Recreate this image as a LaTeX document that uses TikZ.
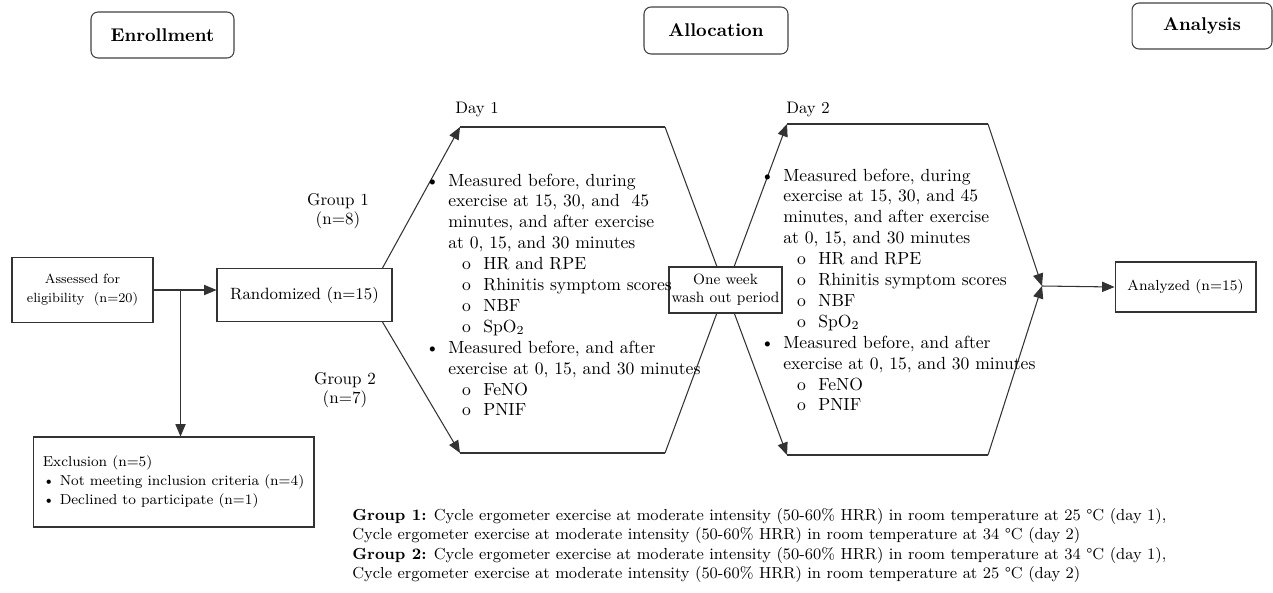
\documentclass[tikz,border=0pt]{standalone}
\usepackage{tikz}
\usetikzlibrary{positioning,arrows,calc}
\tikzset{
	header/.style={draw=black!75, rounded corners=4pt, line width=0.6pt, font=\fontsize{10.5}{12}\selectfont\bfseries, inner sep=0pt},
	flowbox/.style={draw=black!80, line width=0.6pt, align=center, inner sep=0pt},
	flowline/.style={draw=black!80, line width=0.6pt},
	flowarrow/.style={flowline, -triangle 45},
	daylist/.style={anchor=base west, text width=5.3cm, align=left, inner sep=0pt, font=\fontsize{10}{11.9}\selectfont}
}
\newcommand{\mainbullet}{\makebox[0pt][r]{\textbullet\hspace{0.18cm}}}
\newcommand{\subbullet}{\hspace*{0.7cm}\makebox[0pt][r]{o\hspace{0.25cm}}}

\begin{document}
\begin{tikzpicture}[x=0.02cm, y=-0.02cm]
	\useasboundingbox (0,0) rectangle (1273,592);
	% stage headers
	\node[header, minimum width=2.86cm, minimum height=0.92cm] (enroll) at (162.5,35) {Enrollment};
	\node[header, minimum width=2.88cm, minimum height=0.94cm] (alloc) at (716,30.5) {Allocation};
	\node[header, minimum width=2.80cm, minimum height=0.92cm] (analysis) at (1202,26) {Analysis};

	% enrollment
	\node[flowbox, minimum width=2.82cm, minimum height=1.30cm, font=\fontsize{7.6}{11}\selectfont] (assess) at (82.5,290) {Assessed for\\eligibility\ \ (n=20)};
	\node[flowbox, minimum width=3.5cm, minimum height=1.06cm, font=\fontsize{9.3}{11}\selectfont] (random) at (304.5,295) {Randomized (n=15)};
	\node[flowbox, align=left, minimum width=5.62cm, minimum height=1.80cm, font=\fontsize{8.2}{11}\selectfont] (exclude) at (173.5,482) {Exclusion (n=5)\\ \textbullet{} Not meeting inclusion criteria (n=4)\\ \textbullet{} Declined to participate (n=1)};
	\coordinate (branch) at ($(assess.east)+(27,0)$);
	\draw[flowarrow] (assess.east) -- (assess.east -| random.west);
	\draw[flowarrow] (branch) -- (branch |- exclude.north);

	% allocation, two days
	\coordinate (d1tl) at (460,127);
	\coordinate (d1tr) at (665,127);
	\coordinate (d1bl) at (460,453);
	\coordinate (d1br) at (665,453);
	\coordinate (d2tl) at (787,124);
	\coordinate (d2tr) at (988,124);
	\coordinate (d2bl) at (787,455);
	\coordinate (d2br) at (988,455);
	\coordinate (join) at (1042,286);

	\draw[flowarrow] ($(random.north east)+(-10,0)$) -- (d1tl);
	\draw[flowarrow] ($(random.south east)+(-10,0)$) -- (d1bl);
	\draw[flowline] (d1tl) -- (d1tr);
	\draw[flowline] (d1bl) -- (d1br);
	\draw[flowarrow] (d1tr) -- (d2bl);
	\draw[flowarrow] (d1br) -- (d2tl);
	\draw[flowline] (d2tl) -- (d2tr);
	\draw[flowline] (d2bl) -- (d2br);
	\draw[flowarrow] (d2tr) -- (join);
	\draw[flowarrow] (d2br) -- (join);

	\node[flowbox, fill=white, minimum width=2.26cm, minimum height=0.92cm, font=\fontsize{8.5}{10.2}\selectfont] (washout) at (725.5,290) {One week\\wash out period};

	\node[font=\fontsize{9.5}{11}\selectfont] (day1) at (477,110) {Day 1};
	\node[font=\fontsize{9.5}{11}\selectfont] (day2) at (808,110) {Day 2};
	\node[align=center, font=\fontsize{9.7}{10.8}\selectfont] (group1) at (338,211) {Group 1\\(n=8)};
	\node[align=center, font=\fontsize{9.7}{10.8}\selectfont] (group2) at (345,390) {Group 2\\(n=7)};

	\node[daylist] (list1) at (448,186) {\mainbullet Measured before, during\\ exercise at 15, 30, and\ \ 45\\ minutes, and after exercise\\ at 0, 15, and 30 minutes\\ \subbullet HR and RPE\\ \subbullet Rhinitis symptom scores\\ \subbullet NBF\\ \subbullet SpO\textsubscript{2}\\ \mainbullet Measured before, and after\\ exercise at 0, 15, and 30 minutes\\ \subbullet FeNO\\ \subbullet PNIF};
	\node[daylist] (list2) at (783,181) {\mainbullet Measured before, during\\ exercise at 15, 30, and 45\\ minutes, and after exercise\\ at 0, 15, and 30 minutes\\ \subbullet HR and RPE\\ \subbullet Rhinitis symptom scores\\ \subbullet NBF\\ \subbullet SpO\textsubscript{2}\\ \mainbullet Measured before, and after\\ exercise at 0, 15, and 30 minutes\\ \subbullet FeNO\\ \subbullet PNIF};

	% analysis
	\node[flowbox, minimum width=2.82cm, minimum height=1.0cm, font=\fontsize{8.3}{10}\selectfont] (analyzed) at (1185.5,287) {Analyzed (n=15)};
	\draw[flowarrow] (join) -- (analyzed.west);

	% legend
	\node[anchor=north west, align=left, inner sep=0pt, font=\fontsize{9.1}{11}\selectfont] (legend) at (352,508) {\textbf{Group 1:} Cycle ergometer exercise at moderate intensity (50-60\% HRR) in room temperature at 25~\textdegree C (day 1),\\ Cycle ergometer exercise at moderate intensity (50-60\% HRR) in room temperature at 34~\textdegree C (day 2)\\ \textbf{Group 2:} Cycle ergometer exercise at moderate intensity (50-60\% HRR) in room temperature at 34~\textdegree C (day 1),\\ Cycle ergometer exercise at moderate intensity (50-60\% HRR) in room temperature at 25~\textdegree C (day 2)};
\end{tikzpicture}
\end{document}
